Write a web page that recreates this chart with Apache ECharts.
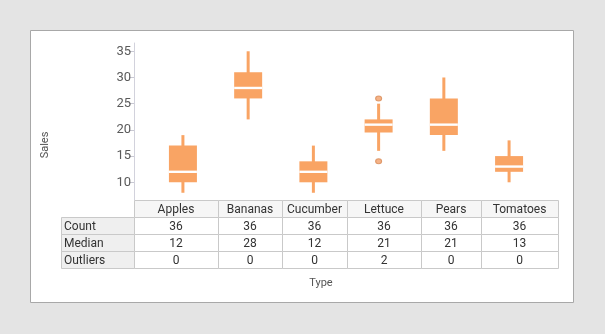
<!DOCTYPE html>
<html>
<head>
<meta charset="utf-8">
<script src="https://cdn.jsdelivr.net/npm/echarts@6/dist/echarts.min.js"></script>
<style>
html,body{margin:0;padding:0;background:#e4e4e4;}
#c{width:605px;height:334px;}
</style>
</head>
<body>
<div id="c"></div>
<script>
// ---- data ----
const categories = ['Apples','Bananas','Cucumber','Lettuce','Pears','Tomatoes'];
const whiskerLow  = [8, 22, 8, 16, 16, 10];
const q1Values    = [10, 26, 10, 19.5, 19, 12];
const medianValues= [12, 28, 12, 21, 21, 13];
const q3Values    = [17, 31, 14, 22, 26, 15];
const whiskerHigh = [19, 35, 17, 25, 30, 18];
const outlierCats = [3, 3];
const outlierVals = [26, 14];
const tableRowLabels = ['Count','Median','Outliers'];
const tableCount    = [36, 36, 36, 36, 36, 36];
const tableMedian   = [12, 28, 12, 21, 21, 13];
const tableOutliers = [0, 0, 0, 2, 0, 0];
const yTicks = [10, 15, 20, 25, 30, 35];

// ---- layout (not data) ----
const colEdges = [134, 218, 282, 347, 421, 481, 558];
const rowEdges = [200, 217, 234, 251, 268];
const rowHeadLeft = 61;
const FONT = 'Roboto, "Noto Sans", sans-serif';
const ORANGE = '#f9a464';

const boxData = categories.map((c, i) => [i, whiskerLow[i], q1Values[i], medianValues[i], q3Values[i], whiskerHigh[i]]);
const outData = outlierCats.map((c, i) => [c, outlierVals[i]]);

const graphics = [];
// panel
graphics.push({type:'rect', z:-10, shape:{x:30.5, y:30.5, width:543, height:272},
  style:{fill:'#ffffff', stroke:'#a8a8a8', lineWidth:1}});
// axis titles
graphics.push({type:'text', x:45, y:145, rotation:Math.PI/2,
  style:{text:'Sales', fill:'#555', font:'11px '+FONT, align:'center', verticalAlign:'middle'}});
graphics.push({type:'text', x:321, y:283,
  style:{text:'Type', fill:'#555', font:'11px '+FONT, align:'center', verticalAlign:'middle'}});

// table
const tableRows = [tableCount, tableMedian, tableOutliers];
for (let j = 0; j < categories.length; j++) {
  const x0 = colEdges[j], x1 = colEdges[j+1];
  graphics.push({type:'rect', z:1, shape:{x:x0+0.5, y:rowEdges[0]+0.5, width:x1-x0, height:rowEdges[1]-rowEdges[0]},
    style:{fill:'#f6f6f6', stroke:'#c9c9c9', lineWidth:1}});
  graphics.push({type:'text', z:2, x:(x0+x1)/2, y:(rowEdges[0]+rowEdges[1])/2+1,
    style:{text:categories[j], fill:'#333', font:'12px '+FONT, align:'center', verticalAlign:'middle'}});
}
for (let r = 0; r < tableRows.length; r++) {
  const y0 = rowEdges[r+1], y1 = rowEdges[r+2];
  graphics.push({type:'rect', z:1, shape:{x:rowHeadLeft+0.5, y:y0+0.5, width:colEdges[0]-rowHeadLeft, height:y1-y0},
    style:{fill:'#efefef', stroke:'#c9c9c9', lineWidth:1}});
  graphics.push({type:'text', z:2, x:rowHeadLeft+3, y:(y0+y1)/2+1,
    style:{text:tableRowLabels[r], fill:'#333', font:'12px '+FONT, align:'left', verticalAlign:'middle'}});
  for (let j = 0; j < categories.length; j++) {
    const x0 = colEdges[j], x1 = colEdges[j+1];
    graphics.push({type:'rect', z:1, shape:{x:x0+0.5, y:y0+0.5, width:x1-x0, height:y1-y0},
      style:{fill:'#ffffff', stroke:'#c9c9c9', lineWidth:1}});
    graphics.push({type:'text', z:2, x:(x0+x1)/2, y:(y0+y1)/2+1,
      style:{text:String(tableRows[r][j]), fill:'#333', font:'12px '+FONT, align:'center', verticalAlign:'middle'}});
  }
}

const chart = echarts.init(document.getElementById('c'), null, {renderer:'canvas'});
chart.setOption({
  animation:false,
  backgroundColor:'#e4e4e4',
  grid:{left:134, right:47, top:43, bottom:134, containLabel:false},
  xAxis:{type:'value', min:-0.75, max:5.75, show:false},
  yAxis:{type:'value', min:6.62, max:36.58,
    axisLine:{show:true, onZero:false, lineStyle:{color:'#d2d2dc', width:1}},
    axisTick:{show:true, length:5, lineStyle:{color:'#c8c8d2'}, customValues:yTicks},
    axisLabel:{color:'#5a5a5a', fontSize:13, fontFamily:FONT, margin:3, customValues:yTicks},
    splitLine:{show:false}},
  graphic:graphics,
  series:[{
    type:'custom',
    data:boxData,
    renderItem:function(params, api){
      const cx = api.coord([api.value(0), 0])[0];
      const yLo = api.coord([0, api.value(1)])[1];
      const yQ1 = api.coord([0, api.value(2)])[1];
      const yMed = api.coord([0, api.value(3)])[1];
      const yQ3 = api.coord([0, api.value(4)])[1];
      const yHi = api.coord([0, api.value(5)])[1];
      const bw = 28, ww = 3;
      return {type:'group', children:[
        {type:'rect', shape:{x:cx-ww/2, y:yHi, width:ww, height:yLo-yHi}, style:{fill:ORANGE}},
        {type:'rect', shape:{x:cx-bw/2, y:yQ3, width:bw, height:yQ1-yQ3}, style:{fill:ORANGE}},
        {type:'rect', shape:{x:cx-bw/2, y:yMed-1.2, width:bw, height:2.4}, style:{fill:'#ffffff'}}
      ]};
    }
  },{
    type:'scatter',
    data:outData,
    symbol:'circle',
    symbolSize:[6,5],
    itemStyle:{color:'#f3a06a', borderColor:'#d88b58', borderWidth:1}
  }]
});
</script>
</body>
</html>
